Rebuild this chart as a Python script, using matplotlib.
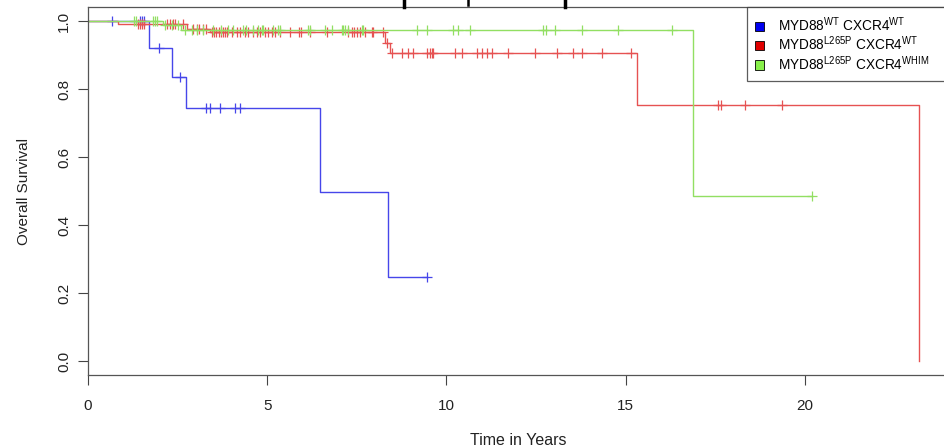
import numpy as np
import matplotlib
matplotlib.use("Agg")
import matplotlib.pyplot as plt
from matplotlib.patches import Patch
from matplotlib.lines import Line2D

plt.rcParams["font.family"] = ["Liberation Sans", "DejaVu Sans"]
plt.rcParams["mathtext.fontset"] = "custom"
plt.rcParams["mathtext.rm"] = "Liberation Sans"
plt.rcParams["mathtext.it"] = "Liberation Sans"

# ---------- KM step data (years, survival) ----------
wt_times = [0, 1.70, 2.34, 2.73, 6.47, 8.37, 9.46]
wt_surv = [1.0, 0.921, 0.835, 0.744, 0.497, 0.247, 0.247]
wt_cens = [0.67, 1.45, 1.51, 1.57, 1.98, 2.57, 3.29, 3.40, 3.68, 4.10, 4.24, 9.46]

l265_times = [0, 0.84, 2.76, 3.40, 8.28, 8.42, 15.32, 23.18]
l265_surv = [1.0, 0.991, 0.977, 0.967, 0.936, 0.905, 0.752, 0.0]
l265_cens = [1.39, 1.45, 1.51, 1.56, 2.20, 2.29, 2.37, 2.43, 2.65, 2.93, 3.04, 3.10,
             3.21, 3.29, 3.46, 3.52, 3.58, 3.65, 3.70, 3.76, 3.82, 3.88, 4.02, 4.16,
             4.24, 4.38, 4.46, 4.60, 4.71, 4.80, 4.94, 5.02, 5.13, 5.22, 5.36, 5.63,
             5.89, 5.94, 6.19, 6.66, 7.25, 7.36, 7.42, 7.50, 7.59, 7.73, 7.92, 7.95,
             8.23, 8.34, 8.47, 8.75, 8.93, 9.07, 9.45, 9.54, 9.59, 9.63, 10.24, 10.42,
             10.84, 10.98, 11.12, 11.26, 11.72, 12.47, 13.08, 13.54, 13.77, 14.33,
             15.15, 17.58, 17.67, 18.34, 19.35]

whim_times = [0, 2.10, 2.60, 16.88, 20.20]
whim_surv = [1.0, 0.987, 0.975, 0.487, 0.487]
whim_cens = [1.28, 1.34, 1.81, 1.87, 1.92, 2.15, 2.35, 2.50, 2.70, 2.90, 3.05, 3.20,
             3.50, 3.70, 3.90, 4.05, 4.33, 4.41, 4.60, 4.74, 4.85, 4.88, 5.16, 5.30,
             5.36, 6.14, 6.20, 6.61, 6.81, 7.09, 7.11, 7.17, 7.25, 7.64, 7.67, 9.17,
             9.45, 10.19, 10.33, 10.66, 12.70, 12.79, 13.03, 13.77, 14.79, 16.28, 20.20]

labels = [r"MYD88$^{\mathrm{WT}}$ CXCR4$^{\mathrm{WT}}$",
          r"MYD88$^{\mathrm{L265P}}$ CXCR4$^{\mathrm{WT}}$",
          r"MYD88$^{\mathrm{L265P}}$ CXCR4$^{\mathrm{WHIM}}$"]
line_colors = ["#4646ea", "#e65252", "#92df62"]
patch_colors = ["#0000f0", "#e00000", "#88f04a"]

groups = [(wt_times, wt_surv, wt_cens),
          (l265_times, l265_surv, l265_cens),
          (whim_times, whim_surv, whim_cens)]

fig = plt.figure(figsize=(9.45, 4.47), dpi=100)
ax = fig.add_axes([88 / 945, 72 / 447, 860 / 945, 367.6 / 447])

for (t, s, c), col in zip(groups, line_colors):
    t = np.asarray(t)
    s = np.asarray(s)
    ax.plot(t, s, drawstyle="steps-post", color=col, linewidth=1.0)
    idx = np.searchsorted(t, np.asarray(c), side="right") - 1
    ax.plot(c, s[idx], linestyle="none", marker="+", markersize=7,
            markeredgewidth=0.9, color=col)

ax.set_xlim(0, 23.99)
ax.set_ylim(-0.04, 1.04)
ax.set_xticks([0, 5, 10, 15, 20])
ax.set_yticks([0.0, 0.2, 0.4, 0.6, 0.8, 1.0])
ax.set_yticklabels(["0.0", "0.2", "0.4", "0.6", "0.8", "1.0"], rotation=90, va="center")
ax.tick_params(axis="both", direction="out", length=7, width=0.8, color="#444444",
               labelsize=11, labelcolor="#222222")
ax.tick_params(axis="x", pad=10)
ax.tick_params(axis="y", pad=5)
for sp in ax.spines.values():
    sp.set_color("#555555")
    sp.set_linewidth(0.9)

narrow = ["Liberation Sans Narrow", "Liberation Sans"]
ax.set_xlabel("Time in Years", fontsize=11.5, color="#222222", family=narrow, labelpad=15)
ax.set_ylabel("Overall Survival", fontsize=11, color="#222222", labelpad=19)
for lab in ax.get_xticklabels():
    lab.set_family(narrow)

handles = [Patch(facecolor=pc, edgecolor="black", linewidth=0.6) for pc in patch_colors]
leg = ax.legend(handles, labels, loc="upper left", bbox_to_anchor=(0.766, 0.0, 0.25, 1.0),
                mode="expand", fontsize=9.8, frameon=True, fancybox=False,
                edgecolor="#333333", handlelength=0.7, handleheight=0.7,
                handletextpad=1.0, labelspacing=0.05, borderpad=0.6,
                borderaxespad=0.0)
leg.get_frame().set_linewidth(0.9)

# cut-off marks from the panel above
for xp, lw, h in [(404, 2.5, 7), (468, 1.8, 5), (565, 2.5, 7)]:
    fig.add_artist(Line2D([xp / 945, xp / 945], [1.0, 1.0 - h / 447],
                          color="black", linewidth=lw, transform=fig.transFigure))

fig.savefig("out.png", dpi=100)
